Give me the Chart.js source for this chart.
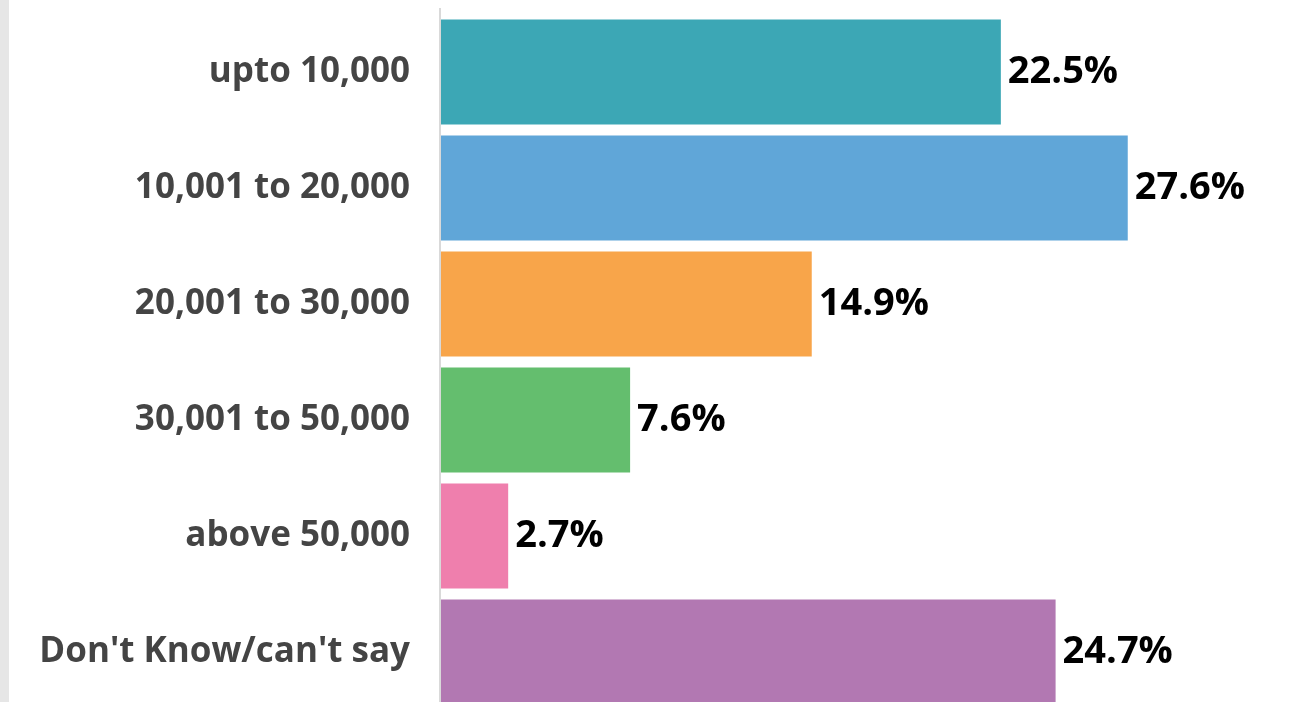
<!DOCTYPE html>
<html>
<head>
<meta charset="utf-8">
<script src="https://cdn.jsdelivr.net/npm/chart.js@4"></script>
<style>
    html, body { margin: 0; padding: 0; background: #fff; overflow: hidden; }
    #chart1 { position: absolute; left: 0; top: 0; }
    #strip { position: absolute; left: 0; top: 0; width: 9px; height: 702px; background: #e6e6e6; }
</style>
</head>
<body>
<canvas id="chart1" width="1293" height="710"></canvas>
<div id="strip"></div>
<script>
    const categories = ['upto 10,000', '10,001 to 20,000', '20,001 to 30,000', '30,001 to 50,000', 'above 50,000', "Don't Know/can't say"]
    const shares = [22.5, 27.6, 14.9, 7.6, 2.7, 24.7]
    const barColors = ['#3ca7b5', '#60a6d8', '#f8a54a', '#64be6e', '#ef7fad', '#b278b2']

    Chart.defaults.font.family = "'Open Sans', sans-serif"

    // value labels next to each bar
    const valueLabels = {
        id: 'valueLabels',
        afterDatasetsDraw(chart) {
            const ctx = chart.ctx
            const meta = chart.getDatasetMeta(0)
            ctx.save()
            ctx.font = "bold 38px 'Open Sans'"
            ctx.fillStyle = '#000'
            ctx.textAlign = 'left'
            ctx.textBaseline = 'middle'
            meta.data.forEach((bar, i) => {
                ctx.fillText(shares[i].toFixed(1) + '%', bar.x + 7, bar.y)
            })
            ctx.restore()
        }
    }

    // axis line, starts a bit above the first bar
    const axisLine = {
        id: 'axisLine',
        beforeDatasetsDraw(chart) {
            const ctx = chart.ctx
            const left = chart.chartArea.left
            ctx.save()
            ctx.fillStyle = '#d9d9d9'
            ctx.fillRect(left - 2, 8, 2, chart.height)
            ctx.restore()
        }
    }

    new Chart(document.getElementById('chart1'), {
        type: 'bar',
        data: {
            labels: categories,
            datasets: [{
                data: shares,
                backgroundColor: barColors,
                borderWidth: 0,
                barPercentage: 0.905,
                categoryPercentage: 1
            }]
        },
        options: {
            indexAxis: 'y',
            responsive: false,
            animation: false,
            layout: { padding: { top: 14, right: 6, left: 0, bottom: 0 } },
            plugins: {
                legend: { display: false },
                tooltip: { enabled: false }
            },
            scales: {
                x: {
                    display: false,
                    min: 0,
                    max: 34
                },
                y: {
                    grid: { display: false, drawTicks: false },
                    border: { display: false },
                    ticks: {
                        padding: 31,
                        color: '#444',
                        font: { size: 35, weight: 'bold' }
                    },
                    afterFit(scale) {
                        scale.width = 441
                        scale.paddingTop = 0
                        scale.paddingBottom = 0
                    }
                }
            }
        },
        plugins: [axisLine, valueLabels]
    })
</script>
</body>
</html>
